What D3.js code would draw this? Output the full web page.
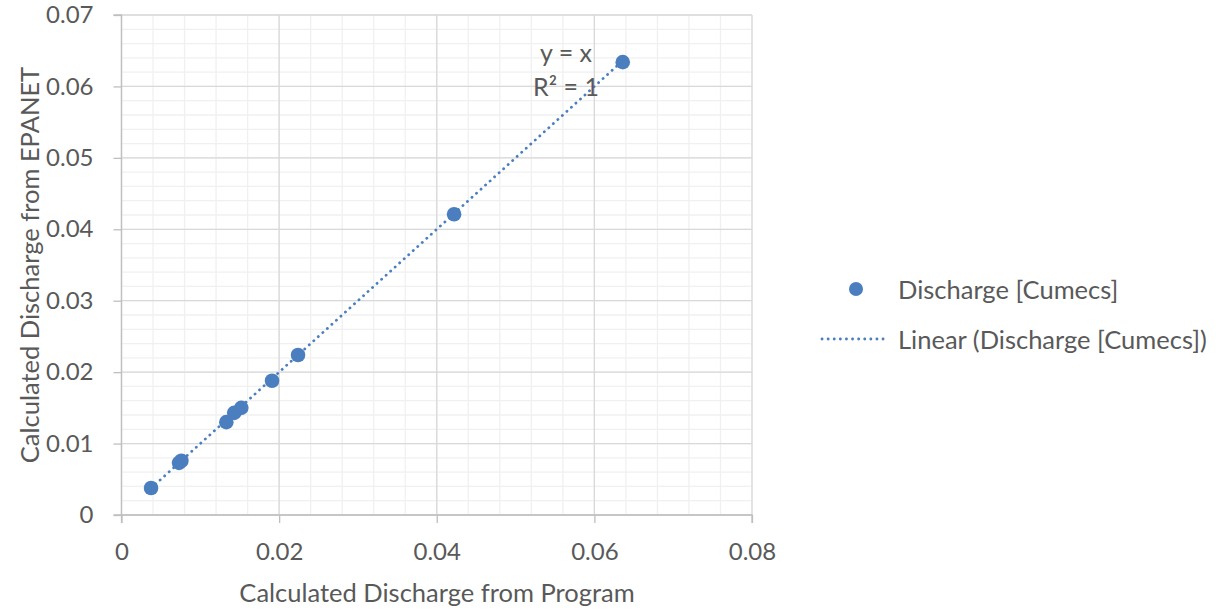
<!DOCTYPE html>
<html><head><meta charset="utf-8">
<script src="https://cdn.jsdelivr.net/npm/d3@7"></script>
<style>body{margin:0;background:#fff}</style>
</head><body><svg id="c" width="1227" height="613"></svg>
<script>
const xProgram = [0.00375, 0.0073, 0.0076, 0.0133, 0.0143, 0.0152, 0.0191, 0.0224, 0.0422, 0.0636];
const yEpanet  = [0.00378, 0.0073, 0.0076, 0.0130, 0.0143, 0.0150, 0.0188, 0.0224, 0.0421, 0.0634];
const xTicks = [0, 0.02, 0.04, 0.06, 0.08];
const yTicks = [0, 0.01, 0.02, 0.03, 0.04, 0.05, 0.06, 0.07];
const seriesName = "Discharge [Cumecs]";
const trendName = "Linear (Discharge [Cumecs])";
const equation = ["y = x", "R² = 1"];

const svg = d3.select("#c");
const font = "Lato, 'Open Sans', sans-serif";
const txt = "#595959", blue = "#4a7ebf";
const x = d3.scaleLinear().domain([0, 0.08]).range([121.5, 752]);
const y = d3.scaleLinear().domain([0, 0.07]).range([515, 15]);

// minor grid
const g = svg.append("g");
d3.range(0, 0.0801, 0.004).forEach(v => {
  g.append("line").attr("x1", x(v)).attr("x2", x(v)).attr("y1", y(0)).attr("y2", y(0.07))
   .attr("stroke", "#f0f0f0").attr("stroke-width", 1.3);
});
d3.range(0, 0.0701, 0.002).forEach(v => {
  g.append("line").attr("x1", x(0)).attr("x2", x(0.08)).attr("y1", y(v)).attr("y2", y(v))
   .attr("stroke", "#f0f0f0").attr("stroke-width", 1.3);
});
// major grid
xTicks.forEach(v => {
  g.append("line").attr("x1", x(v)).attr("x2", x(v)).attr("y1", y(0)).attr("y2", y(0.07))
   .attr("stroke", "#d9d9d9").attr("stroke-width", 1.3);
});
yTicks.forEach(v => {
  g.append("line").attr("x1", x(0)).attr("x2", x(0.08)).attr("y1", y(v)).attr("y2", y(v))
   .attr("stroke", "#d9d9d9").attr("stroke-width", 1.3);
});

// axes
const fmt = d => d3.format("~g")(+d.toFixed(3));
const yAxis = svg.append("g").attr("transform", `translate(${x(0)},0)`)
  .call(d3.axisLeft(y).tickValues(yTicks).tickSize(8).tickPadding(20).tickFormat(fmt));
const xAxis = svg.append("g").attr("transform", `translate(0,${y(0)})`)
  .call(d3.axisBottom(x).tickValues(xTicks).tickSize(8).tickPadding(20).tickFormat(fmt));
[xAxis, yAxis].forEach(a => {
  a.select(".domain").attr("stroke", "#bfbfbf").attr("stroke-width", 1.3);
  a.selectAll(".tick line").attr("stroke", "#bfbfbf").attr("stroke-width", 1.3);
  a.selectAll("text").attr("fill", txt).style("font-family", font).style("font-size", "24px");
});
yAxis.select(".domain").attr("d", `M-8,${y(0.07)}H0V${y(0)}H-8`);
xAxis.select(".domain").attr("d", `M${x(0)},8V0H${x(0.08)}V8`);

// trendline y = x
const xmin = d3.min(xProgram), xmax = d3.max(xProgram);
svg.append("line").attr("x1", x(xmin)).attr("y1", y(xmin)).attr("x2", x(xmax)).attr("y2", y(xmax))
  .attr("stroke", blue).attr("stroke-width", 2.8).attr("stroke-dasharray", "0.1 6")
  .attr("stroke-linecap", "round");

// points
svg.append("g").selectAll("circle").data(xProgram.map((v, i) => [v, yEpanet[i]])).join("circle")
  .attr("cx", d => x(d[0])).attr("cy", d => y(d[1])).attr("r", 7.3).attr("fill", blue);

// equation
svg.append("text").attr("x", 566).attr("y", 62).attr("text-anchor", "middle")
  .attr("fill", txt).style("font-family", font).style("font-size", "25px").text(equation[0]);
svg.append("text").attr("x", 566).attr("y", 96).attr("text-anchor", "middle")
  .attr("fill", txt).style("font-family", font).style("font-size", "25px").text(equation[1]);

// axis titles
svg.append("text").attr("x", 437).attr("y", 602).attr("text-anchor", "middle")
  .attr("fill", txt).style("font-family", font).style("font-size", "25.5px").text("Calculated Discharge from Program");
svg.append("text").attr("transform", "translate(39,265) rotate(-90)").attr("text-anchor", "middle")
  .attr("fill", txt).style("font-family", font).style("font-size", "25.5px").text("Calculated Discharge from EPANET");

// legend
svg.append("circle").attr("cx", 856).attr("cy", 289).attr("r", 7).attr("fill", blue);
svg.append("text").attr("x", 898).attr("y", 299).attr("fill", txt).style("font-family", font)
  .style("font-size", "25.5px").text(seriesName);
svg.append("line").attr("x1", 822).attr("x2", 886).attr("y1", 339).attr("y2", 339)
  .attr("stroke", blue).attr("stroke-width", 2.8).attr("stroke-dasharray", "0.1 6").attr("stroke-linecap", "round");
svg.append("text").attr("x", 898).attr("y", 349).attr("fill", txt).style("font-family", font)
  .style("font-size", "25.5px").text(trendName);
</script></body></html>
